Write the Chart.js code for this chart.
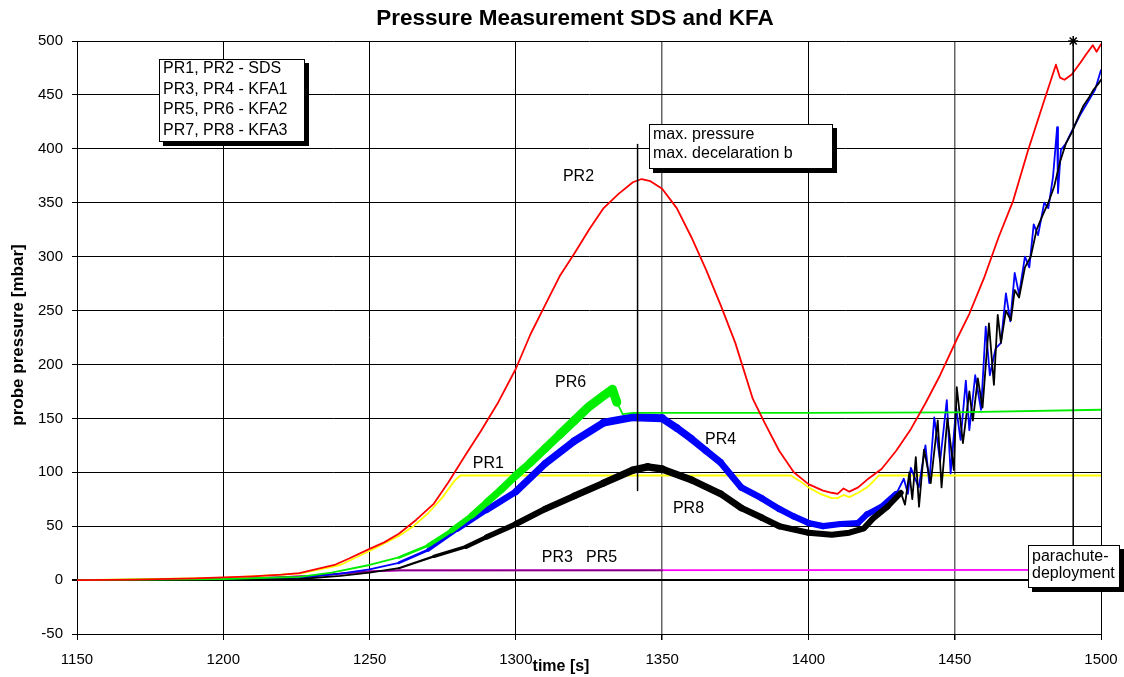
<!DOCTYPE html>
<html><head><meta charset="utf-8">
<script src="https://cdn.jsdelivr.net/npm/chart.js@4/dist/chart.umd.min.js"></script>
<style>html,body{margin:0;padding:0;background:#fff}canvas{display:block}</style>
</head><body>
<canvas id="c" width="1124" height="677"></canvas>
<script>
// ---- data ----
const xTicks = [1150,1200,1250,1300,1350,1400,1450,1500];
const yTicks = [-50,0,50,100,150,200,250,300,350,400,450,500];

const pr2T = [1150,1170,1190,1200,1210,1220,1226,1238,1243,1250,1255,1260,1266,1272,1277,1283,1288,1294,1300,1305,1310,1315,1320,1325,1330,1335,1340,1343,1346,1350,1355,1360,1365,1370,1375,1381,1385,1390,1395,1400,1405,1408,1410,1412,1414,1417,1420,1425,1430,1435,1440,1445,1451,1455,1460,1465,1470,1475,1480,1484.6,1486,1487.5,1490,1493,1495,1497.2,1498.5,1500];
const pr2V = [0,0.5,1.5,2.5,3.5,5,6.5,14,20,29,35,43,56,71,91,117,138,165,196,228,255,282,303,325,345,358,369,372,370,363,345,318,288,255,220,168,146,120,100,89,83,81,80,85,82,86,93,103,120,140,164,190,225,247,280,318,352,398,440,478,466,464,469,480,488,496,490,497];

const pr1T = [1150,1200,1226,1240,1250,1260,1265,1270,1275,1279,1281,1394,1397,1400,1404,1408,1410,1412,1414,1417,1420,1422,1424,1500];
const pr1V = [0,2,6,14,27,41,50,62,77,92,97,97,92,86,80,76,76,79,77,81,86,91,97,97];

const pr6T = [1150,1200,1226,1237,1250,1260,1270,1278,1285,1290,1295,1300,1305,1310,1315,1320,1325,1330,1333,1334.5,1336.5,1340,1400,1450,1500];
const pr6V = [0,1,3,7,14,21,32,46,60,72,84,97,109,122,135,148,161,171,177,165,154,155,155,155.5,158];

const pr4T = [1150,1200,1226,1240,1250,1260,1270,1280,1290,1300,1310,1320,1330,1340,1350,1355,1360,1365,1370,1377,1384,1390,1395,1400,1405,1411,1417,1420,1425,1430,1432.6,1434,1435,1437.7,1440,1441.3,1443,1445,1447.3,1448.6,1450.5,1452,1453.8,1455,1457,1459,1460.6,1462,1464,1465.8,1467.5,1469,1470.5,1472,1474,1475.5,1477,1478.5,1480.6,1482,1483.6,1485,1485.3,1486.3,1488,1490.7,1493,1496.5,1498,1500];
const pr4V = [0,0.5,2,6,10,16,28,47,65,82,108,129,146,151,150,141,131,120,109,86,76,66,59,53,50,52,53,61,68,80,94,80,104,86,125,90,151,110,167,99,160,130,185,139,190,158,235,190,215,220,266,240,285,265,300,290,330,320,350,345,374,420,359,399,405,420,432,448,455,473];

const pr8T = [1150,1200,1226,1240,1250,1260,1272,1283,1290,1300,1310,1320,1330,1340,1345,1350,1360,1370,1377,1384,1390,1400,1408,1414,1419,1422,1427,1431.6,1433,1434.5,1435.5,1436.7,1437.8,1439.5,1441.8,1444.2,1445.5,1447.5,1449.7,1450.7,1452.8,1455,1456.2,1457.9,1459.5,1461.7,1463.4,1464.7,1465.8,1467.5,1469.2,1470.5,1472,1474,1476,1478,1480,1482,1484,1486,1488,1490,1492,1494,1496,1497.5,1499,1500];
const pr8V = [0,0,1,4,7,11,22,31,40,52,66,78,90,102,105,103,93,80,67,58,50,44,42,44,48,57,68,81,70,100,75,114,68,121,90,148,86,150,102,179,127,175,148,187,160,238,181,246,220,250,241,269,262,290,300,325,338,350,365,388,405,415,428,440,448,455,460,464];

const pr3T = [1150,1200,1230,1250,1260,1350];
const pr3V = [0,0.5,4,8,9,9];
const pr5T = [1150,1200,1230,1250,1260,1500];
const pr5V = [0,0.5,4,8,9,9.5];

const maxPressT = [1341.6,1341.6];
const maxPressV = [83,404];
const paraT = [1490.5,1490.5];
const paraV = [500,30];
const starT = [1490.5];
const starV = [500];

const legendLines = ['PR1, PR2 - SDS','PR3, PR4 - KFA1','PR5, PR6 - KFA2','PR7, PR8 - KFA3'];
const seriesLabels = [
  {text:'PR2', x:1321.4, y:374},
  {text:'PR6', x:1318.7, y:183},
  {text:'PR1', x:1290.6, y:108.5},
  {text:'PR4', x:1370, y:130},
  {text:'PR8', x:1359, y:66},
  {text:'PR3', x:1314.2, y:21},
  {text:'PR5', x:1329.3, y:21}
];

// ---- helpers ----
const FONT = "'Liberation Sans', Arial, Helvetica, sans-serif";
function pts(T,V){ return T.map((t,i)=>({x:t,y:V[i]})); }
function knotW(knots, x){
  if (x <= knots[0][0]) return knots[0][1];
  for (let i=1;i<knots.length;i++){
    if (x <= knots[i][0]){
      const [x0,w0]=knots[i-1],[x1,w1]=knots[i];
      return w0+(w1-w0)*(x-x0)/(x1-x0);
    }
  }
  return knots[knots.length-1][1];
}
function bandSeg(knots){
  return { borderWidth: ctx => knotW(knots, (ctx.p0.parsed.x+ctx.p1.parsed.x)/2) };
}
const greenKnots = [[1255,1.8],[1268,3],[1290,7],[1320,9],[1334,9],[1335,1.8]];
const blueKnots  = [[1255,1.8],[1268,3],[1300,7],[1345,8],[1380,6.5],[1428,6],[1431,1.8]];
const blackKnots = [[1262,1.8],[1275,3],[1300,6],[1345,7.5],[1400,6],[1429,6],[1432,1.8]];

function line(label, T, V, color, width, extra){
  return Object.assign({label, data:pts(T,V), borderColor:color, backgroundColor:color,
    borderWidth:width, pointRadius:0, tension:0, fill:false,
    borderJoinStyle:'round', borderCapStyle:'round'}, extra||{});
}

const datasets = [
  line('maxp', maxPressT, maxPressV, '#000', 1.5),
  line('para', paraT, paraV, '#000', 1.5),
  line('star', starT, starV, '#000', 1.5, {pointRadius:5, pointStyle:'star', pointBorderColor:'#000', pointBorderWidth:1.5, clip:false, showLine:false}),
  line('PR2', pr2T, pr2V, '#ff0000', 1.8),
  line('PR6', pr6T, pr6V, '#00ee00', 1.8, {segment: bandSeg(greenKnots)}),
  line('PR8', pr8T, pr8V, '#000000', 1.8, {segment: bandSeg(blackKnots)}),
  line('PR4', pr4T, pr4V, '#0000ff', 1.8, {segment: bandSeg(blueKnots)}),
  line('PR1', pr1T, pr1V, '#ffff00', 1.8),
  line('PR3', pr3T, pr3V, '#800080', 1.8),
  line('PR5', pr5T, pr5V, '#ff00ff', 1.8)
];

function drawBox(ctx, l, t, r, b, lines, x0, y0, lh, fs){
  ctx.fillStyle = '#000';
  ctx.fillRect(l+4, t+4, r-l, b-t);
  ctx.fillStyle = '#fff';
  ctx.fillRect(l, t, r-l, b-t);
  ctx.strokeStyle = '#000'; ctx.lineWidth = 1;
  ctx.strokeRect(l+0.5, t+0.5, r-l-1, b-t-1);
  ctx.fillStyle = '#000';
  ctx.font = fs + 'px ' + FONT;
  ctx.textAlign = 'left'; ctx.textBaseline = 'middle';
  lines.forEach((s,i)=>ctx.fillText(s, x0, y0 + i*lh));
}

const decor = {
  id:'decor',
  afterDatasetsDraw(chart){
    const {ctx, scales:{x,y}} = chart;
    ctx.save();
    ctx.fillStyle = '#000';
    ctx.font = '16px ' + FONT;
    ctx.textAlign = 'center'; ctx.textBaseline = 'middle';
    seriesLabels.forEach(l => ctx.fillText(l.text, x.getPixelForValue(l.x), y.getPixelForValue(l.y)));
    drawBox(ctx, 159, 59, 305, 142, legendLines, 163, 69, 20.5, 16);
    drawBox(ctx, 649, 124, 833, 169, ['max. pressure','max. decelaration b'], 653, 135, 19, 16);
    drawBox(ctx, 1028, 545, 1120, 588, ['parachute-','deployment'], 1032, 557, 17, 16);
    ctx.fillStyle = '#000';
    ctx.textAlign = 'center'; ctx.textBaseline = 'middle';
    ctx.font = 'bold 22.5px ' + FONT;
    ctx.fillText('Pressure Measurement SDS and KFA', 575, 19);
    ctx.font = 'bold 16px ' + FONT;
    ctx.fillText('time [s]', 561, 667);
    ctx.save();
    ctx.translate(18, 335);
    ctx.rotate(-Math.PI/2);
    ctx.font = 'bold 17px ' + FONT;
    ctx.fillText('probe pressure [mbar]', 0, 0);
    ctx.restore();
    ctx.restore();
  }
};

new Chart(document.getElementById('c'), {
  type:'line',
  data:{datasets},
  plugins:[decor],
  options:{
    responsive:false, animation:false, devicePixelRatio:1,
    layout:{padding:{left:0, top:41, right:23, bottom:0}},
    plugins:{legend:{display:false}, tooltip:{enabled:false}, title:{display:false}},
    elements:{point:{radius:0}},
    scales:{
      x:{type:'linear', min:1150, max:1500,
        afterBuildTicks: s => { s.ticks = xTicks.map(v=>({value:v})); },
        afterFit: s => { s.height = 43; s.paddingLeft = 0; s.paddingRight = 0; },
        ticks:{color:'#000', font:{family:FONT, size:15}, padding:11, maxRotation:0, autoSkip:false, callback:v=>String(v)},
        grid:{color: c => (c.tick && (c.tick.value===1350 || c.tick.value===1450)) ? '#666' : '#000',
              lineWidth: c => (c.tick && (c.tick.value===1350 || c.tick.value===1450)) ? 1.5 : 1,
              drawTicks:true, tickLength:6, tickColor:'#000'},
        border:{color:'#000', width:1}
      },
      y:{type:'linear', min:-50, max:500,
        afterBuildTicks: s => { s.ticks = yTicks.map(v=>({value:v})); },
        afterFit: s => { s.width = 77; s.paddingTop = 0; s.paddingBottom = 0; },
        ticks:{color:'#000', font:{family:FONT, size:15}, padding:9, callback:v=>String(v)},
        grid:{color:'#000', lineWidth: c => (c.tick && c.tick.value===0) ? 2 : 1, drawTicks:true, tickLength:5, tickColor:'#000'},
        border:{color:'#000', width:1}
      }
    }
  }
});
</script>
</body></html>
